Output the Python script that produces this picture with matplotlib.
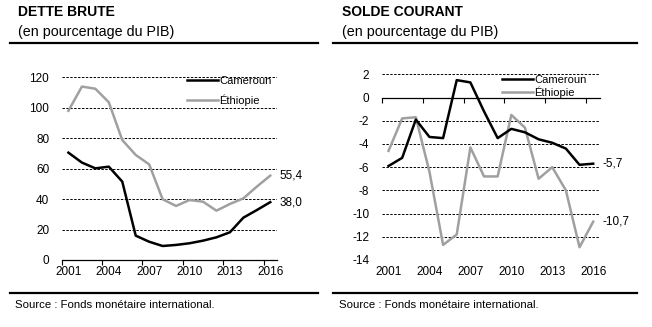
import numpy as np
import matplotlib
matplotlib.use("Agg")
import matplotlib.pyplot as plt
from matplotlib.lines import Line2D

plt.rcParams['font.family'] = ['Liberation Sans Narrow', 'Liberation Sans', 'DejaVu Sans']

years = list(range(2001, 2017))
tick_years = [2001, 2004, 2007, 2010, 2013, 2016]

# dette brute, % du PIB
dette_cameroun = [70.5, 64.0, 60.2, 61.3, 51.5, 16.0, 12.0, 9.2, 9.9, 11.0, 12.7, 14.9, 18.2, 27.8, 32.8, 38.0]
dette_ethiopie = [98.0, 113.9, 112.5, 103.6, 78.8, 69.0, 62.8, 39.9, 35.5, 39.4, 38.3, 32.4, 36.8, 40.5, 48.2, 55.4]

# solde courant, % du PIB
solde_cameroun = [-5.9, -5.2, -1.9, -3.4, -3.5, 1.5, 1.3, -1.2, -3.5, -2.7, -3.0, -3.6, -3.9, -4.4, -5.8, -5.7]
solde_ethiopie = [-4.6, -1.8, -1.7, -6.4, -12.7, -11.8, -4.3, -6.8, -6.8, -1.5, -2.6, -7.0, -6.0, -8.0, -12.9, -10.7]

GREY = '#a0a0a0'
W, H = 652, 327

fig = plt.figure(figsize=(W / 100, H / 100), dpi=100)


def px_axes(x0, x1, ytop, ybot):
    return fig.add_axes([x0 / W, 1 - ybot / H, (x1 - x0) / W, (ybot - ytop) / H])


def setup(ax, ylo, yhi, step):
    n = len(years)
    xs = np.arange(n)
    ax.set_xlim(-0.5, n - 0.5)
    ax.set_ylim(ylo, yhi)
    for s in ['left', 'right', 'top']:
        ax.spines[s].set_visible(False)
    ax.spines['bottom'].set_position(('data', 0))
    ax.spines['bottom'].set_linewidth(0.9)
    ax.set_yticks(np.arange(ylo, yhi + 0.1, step))
    ax.set_yticklabels([f'{int(v)}' for v in np.arange(ylo, yhi + 0.1, step)])
    ax.tick_params(axis='y', length=0, pad=9, labelsize=8.5)
    for v in np.arange(ylo, yhi + 0.1, step):
        if v != 0:
            ax.axhline(v, color='black', lw=0.7, ls=(0, (2.5, 1.5)), zorder=0)
    # tick marks between categories, labels under the plot
    ax.set_xticks(np.arange(-0.5, n, 3), minor=False)
    ax.tick_params(axis='x', direction='out', length=3.5, width=0.8, labelbottom=False)
    sec = ax.secondary_xaxis('bottom')
    sec.set_xticks([years.index(y) for y in tick_years])
    sec.set_xticklabels([str(y) for y in tick_years])
    sec.tick_params(length=0, pad=4.5, labelsize=8.5)
    sec.spines['bottom'].set_visible(False)
    return xs


# --- gauche : dette brute
ax1 = px_axes(61.7, 277, 77.3, 260)
xs = setup(ax1, 0, 120, 20)
ax1.plot(xs, dette_ethiopie, color=GREY, lw=1.8, zorder=3)
ax1.plot(xs, dette_cameroun, color='black', lw=1.8, zorder=4)
ax1.text(xs[-1] + 0.7, dette_ethiopie[-1], '55,4', fontsize=8.5, va='center', ha='left')
ax1.text(xs[-1] + 0.7, dette_cameroun[-1], '38,0', fontsize=8.5, va='center', ha='left')
h = [Line2D([], [], color='black', lw=1.8), Line2D([], [], color=GREY, lw=1.8)]
ax1.legend(h, ['Cameroun', 'Éthiopie'], loc='upper left', bbox_to_anchor=(0.56, 1.03),
           frameon=False, fontsize=8, handlelength=2.8, handletextpad=0.1, labelspacing=0.75,
           borderaxespad=0)

# --- droite : solde courant
ax2 = px_axes(381.7, 600, 74.3, 260)
xs = setup(ax2, -14, 2, 2)
ax2.plot(xs, solde_ethiopie, color=GREY, lw=1.8, zorder=3)
ax2.plot(xs, solde_cameroun, color='black', lw=1.8, zorder=4)
ax2.text(xs[-1] + 0.7, solde_cameroun[-1], '-5,7', fontsize=8.5, va='center', ha='left')
ax2.text(xs[-1] + 0.7, solde_ethiopie[-1], '-10,7', fontsize=8.5, va='center', ha='left')
ax2.legend(h, ['Cameroun', 'Éthiopie'], loc='upper left', bbox_to_anchor=(0.53, 1.02),
           frameon=False, fontsize=8, handlelength=2.8, handletextpad=0.1, labelspacing=0.15,
           borderaxespad=0)

# titres, filets et sources
for x0, x1, tx, title in [(10, 318, 18, 'DETTE BRUTE'), (333, 637, 342, 'SOLDE COURANT')]:
    fig.text(tx / W, 1 - 12 / H, title, fontsize=10, fontweight='bold', va='center',
             family=['Liberation Sans', 'DejaVu Sans'])
    fig.text(tx / W, 1 - 32 / H, '(en pourcentage du PIB)', fontsize=10.3, va='center',
             family=['Liberation Sans', 'DejaVu Sans'])
    fig.add_artist(Line2D([x0 / W, x1 / W], [1 - 43 / H, 1 - 43 / H], color='black', lw=1.6))
    fig.add_artist(Line2D([x0 / W, x1 / W], [1 - 293 / H, 1 - 293 / H], color='black', lw=1.6))
    fig.text((tx - 3) / W, 1 - 305 / H, 'Source : Fonds monétaire international.', fontsize=8.2,
             va='center')

fig.savefig('out.png', dpi=100)
